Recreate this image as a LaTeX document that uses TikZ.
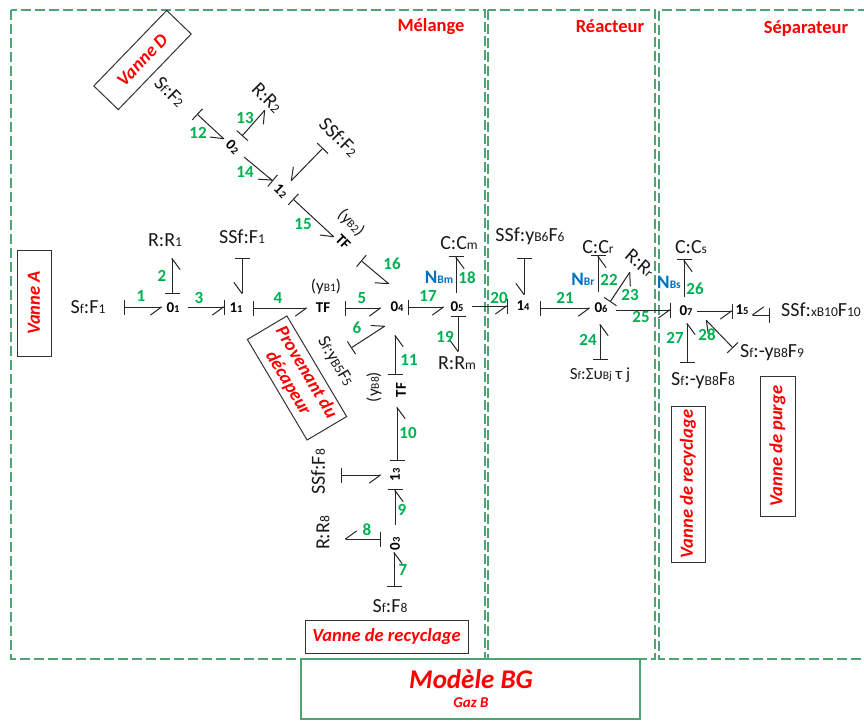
\documentclass[tikz,border=0pt]{standalone}
\usepackage{fontspec}
\setmainfont{Carlito}
\usetikzlibrary{arrows.meta}
\definecolor{fgreen}{RGB}{76,163,115}
\definecolor{ngreen}{RGB}{0,176,80}
\definecolor{nblue}{RGB}{0,112,192}
\newcommand\lo[1]{{\fontsize{13.5}{13}\selectfont #1}}
\newcommand\ls[1]{{\fontsize{11.5}{11}\selectfont #1}}
\newcommand\lj[1]{{\fontsize{10.5}{11}\selectfont #1}}
\newcommand\bond[7]{\draw[#1] ([shift={(#3,#4)}]#2.center) -- ([shift={(#6,#7)}]#5.center);}
\tikzset{
  x=1pt,y=-1pt,
  sb/.style={line width=1pt,black!85,{Bar[width=15pt]}-{Straight Barb[harpoon,swap,length=11pt,width=16pt,round=false]}},
  sg/.style={line width=1pt,black!85,{Bar[width=15pt,sep=4pt]}-{Straight Barb[harpoon,swap,length=11pt,width=16pt,round=false]}},
  se/.style={line width=1pt,black!85,-{Straight Barb[harpoon,swap,length=11pt,width=16pt,round=false]Bar[width=15pt]}},
  sl/.style={line width=1pt,black!85,{Bar[width=15pt]}-{Straight Barb[harpoon,length=11pt,width=16pt,round=false]}},
  frame/.style={draw=fgreen,line width=1.4pt,dash pattern=on 10pt off 4pt},
  el/.style={inner sep=0pt,font=\fontsize{20}{20}\selectfont,text=black!90},
  jn/.style={inner sep=0pt,font=\fontsize{15}{15}\selectfont\bfseries,text=black},
  num/.style={inner sep=0pt,font=\fontsize{17}{17}\selectfont\bfseries,text=ngreen},
  nb/.style={inner sep=0pt,font=\fontsize{19}{19}\selectfont\bfseries,text=nblue},
  zone/.style={inner sep=0pt,font=\fontsize{18.5}{19}\selectfont\bfseries,text=red},
  tag/.style={draw=black!80,line width=1pt,inner sep=0pt,font=\fontsize{18.5}{21}\selectfont\bfseries\itshape,text=red,align=center},
}
\begin{document}
\begin{tikzpicture}
\useasboundingbox (0,0) rectangle (864,720);
% frames
\draw[frame] (11,10) rectangle (485,659);
\draw[frame] (488,10) rectangle (655,659);
\draw[frame] (875,659) -- (659,659) -- (659,10) -- (875,10);
\node[zone] (zm) at (431,27) {Mélange};
\node[zone] (zr) at (610,26) {Réacteur};
\node[zone] (zs) at (806,29) {Séparateur};
% tag boxes
\node[tag,minimum width=106pt,minimum height=34pt,rotate=90] (va) at (34,303) {Vanne A};
\node[tag,minimum width=105pt,minimum height=34pt,rotate=46] (vd) at (142.5,60) {Vanne D};
\node[tag,minimum width=117pt,minimum height=46pt,rotate=-59.3] (vp) at (297,378) {Provenant du\\décapeur};
\node[tag,minimum width=163pt,minimum height=33pt] (vr) at (386.5,636.5) {Vanne de recyclage};
\node[tag,minimum width=156pt,minimum height=34pt,rotate=90] (vs) at (688,484) {Vanne de recyclage};
\node[tag,minimum width=140pt,minimum height=35pt,rotate=90] (vq) at (777.5,446) {Vanne de purge};
\node[draw=fgreen,line width=1.2pt,minimum width=339pt,minimum height=60pt,inner sep=0pt] (mb) at (470.5,689) {};
\node[inner sep=0pt,text=red,font=\fontsize{27}{27}\selectfont\bfseries\itshape] (mt) at (471,679) {Modèle BG};
\node[inner sep=0pt,text=red,font=\fontsize{15}{15}\selectfont\bfseries\itshape] (mg) at (471,703) {Gaz B};
% elements
\node[el] (sff1) at (88,307) {S\lo{f}:F\lo{1}};
\node[el] (rr1) at (165,240) {R:R\lo{1}};
\node[el] (ssff1) at (242,237) {SSf:F\lo{1}};
\node[el,rotate=-45] (sff2) at (170,92) {S\lo{f}:F\lo{2}};
\node[el,rotate=-45] (rr2) at (267,98) {R:R\lo{2}};
\node[el,rotate=-45] (ssff2) at (339,137) {SSf:F\lo{2}};
\node[el,rotate=-60,font=\fontsize{18}{18}\selectfont] (sfb5) at (335,362) {S\lo{f}:y\lo{B5}F\lo{5}};
\node[el,rotate=90] (ssff8) at (318,472) {SSf:F\lo{8}};
\node[el,rotate=90] (rr8) at (323,533) {R:R\lo{8}};
\node[el] (sff8) at (390,606) {S\lo{f}:F\lo{8}};
\node[el] (ccm) at (459,243) {C:C\lo{m}};
\node[el] (rrm) at (457,363) {R:R\lo{m}};
\node[el] (ssf6) at (530,236) {SSf:y\lo{B6}F\lo{6}};
\node[el] (ccr) at (598,247) {C:C\lo{r}};
\node[el,rotate=-40] (rrr) at (640,263) {R:R\lo{r}};
\node[el,font=\fontsize{17}{17}\selectfont] (sfs) at (600,375) {S\ls{f}:Συ\ls{Bj} τ j};
\node[el] (ccs) at (691,247) {C:C\lo{s}};
\node[el] (sfb8) at (703,381) {S\lo{f}:-y\lo{B8}F\lo{8}};
\node[el] (sfb9) at (772,353) {S\lo{f}:-y\lo{B8}F\lo{9}};
\node[el] (ssf10) at (821,310) {SSf:\lo{xB10}F\lo{10}};
\node[el,font=\fontsize{17}{17}\selectfont] (yb1) at (326,287) {(y\ls{B1})};
\node[el,font=\fontsize{17}{17}\selectfont,rotate=-45] (yb2) at (351,223) {(y\ls{B2})};
\node[el,font=\fontsize{17}{17}\selectfont,rotate=90] (yb8) at (374,387) {(y\ls{B8})};
% junctions
\node[jn] (j01) at (173,308) {0\lj{1}};
\node[jn] (j11) at (236,308) {1\lj{1}};
\node[jn,rotate=-45] (j02) at (233,147) {0\lj{2}};
\node[jn,rotate=-45] (j12) at (281,191) {1\lj{2}};
\node[jn] (tf1) at (323,308) {TF};
\node[jn,rotate=-45] (tf2) at (343,242) {TF};
\node[jn,rotate=90] (tfv) at (401,390) {TF};
\node[jn] (j04) at (397,307) {0\lj{4}};
\node[jn] (j05) at (457,307) {0\lj{5}};
\node[jn] (j14) at (523,306) {1\lj{4}};
\node[jn] (j06) at (601,308) {0\lj{6}};
\node[jn] (j07) at (686,311) {0\lj{7}};
\node[jn] (j15) at (742,310) {1\lj{5}};
\node[jn,rotate=90] (j13) at (395,475) {1\lj{3}};
\node[jn,rotate=90] (j03) at (395,544) {0\lj{3}};
% bonds
\bond{sb}{sff1}{36}{0}{j01}{-11}{-1}
\bond{sb}{j01}{-1}{-14}{rr1}{7}{18}
\bond{se}{j01}{15}{-1}{j11}{-11}{-1}
\bond{sb}{ssff1}{0}{20.5}{j11}{6}{-14}
\bond{sb}{j11}{17}{0}{tf1}{-16}{0}
\bond{sg}{tf1}{18}{0}{j04}{-16}{1}
\bond{sl}{sfb5}{16}{-14}{j04}{-12}{19}
\bond{sg}{tf2}{15}{16}{j04}{-8}{-23}
\bond{sb}{j12}{12}{8}{tf2}{-9}{-5}
\bond{se}{j02}{11}{10}{j12}{-8}{-10}
\bond{sb}{ssff2}{-16}{11}{j12}{10}{-10}
\bond{sb}{j02}{9}{-11}{rr2}{-2}{12}
\bond{sb}{sff2}{27}{22}{j02}{-9}{-8}
\bond{sb}{tfv}{-6}{-15}{j04}{-2}{28}
\bond{sb}{j13}{2}{-14}{tfv}{-4}{17}
\bond{sb}{ssff8}{23}{3}{j13}{-14}{0}
\bond{se}{j03}{0}{-19}{j13}{0}{14}
\bond{sb}{j03}{-14}{-5}{rr8}{22}{6}
\bond{sb}{sff8}{4}{-19}{j03}{-1}{8}
\bond{sg}{j04}{7}{0}{j05}{-13}{0}
\bond{se}{j05}{-1}{-14}{ccm}{-3}{13}
\bond{sb}{j05}{1}{9}{rrm}{1}{-11}
\bond{se}{j05}{15}{-1}{j14}{-15}{0}
\bond{sb}{ssf6}{-6}{22}{j14}{1}{-11}
\bond{sg}{j14}{13}{2}{j06}{-11}{0}
\bond{se}{j06}{-3}{-16}{ccr}{0}{8}
\bond{sb}{j06}{9}{-6}{rrr}{-10}{9}
\bond{sb}{sfs}{0}{-15}{j06}{-1}{16}
\bond{se}{j06}{15}{2}{j07}{-15}{-1}
\bond{se}{j07}{-2}{-14}{ccs}{-7}{12}
\bond{sb}{sfb8}{-16}{-18}{j07}{1}{12}
\bond{sl}{sfb9}{-39}{-5}{j07}{20}{9}
\bond{se}{j07}{11}{0}{j15}{-9}{1}
\bond{sb}{ssf10}{-51}{5}{j15}{10}{5}
% numbers
\node[num] (n1) at (141,296) {1};
\node[num] (n2) at (162,276) {2};
\node[num] (n3) at (199,298) {3};
\node[num] (n4) at (278,298) {4};
\node[num] (n5) at (362,298) {5};
\node[num] (n6) at (357,328) {6};
\node[num] (n7) at (403,570) {7};
\node[num] (n8) at (367,530) {8};
\node[num] (n9) at (402,510) {9};
\node[num] (n10) at (408,433) {10};
\node[num] (n11) at (409,360) {11};
\node[num] (n12) at (198,133) {12};
\node[num] (n13) at (245,118) {13};
\node[num] (n14) at (245,172) {14};
\node[num] (n15) at (303,224) {15};
\node[num] (n16) at (392,264) {16};
\node[num] (n17) at (428,296) {17};
\node[num] (n18) at (467,278) {18};
\node[num] (n19) at (445,337) {19};
\node[num] (n20) at (499,298) {20};
\node[num] (n21) at (565,298) {21};
\node[num] (n22) at (609,280) {22};
\node[num] (n23) at (630,295) {23};
\node[num] (n24) at (588,340) {24};
\node[num] (n25) at (641,317) {25};
\node[num] (n26) at (695,289) {26};
\node[num] (n27) at (675,338) {27};
\node[num] (n28) at (707,335) {28};
\node[nb] (nbm) at (439,277) {N\ls{Bm}};
\node[nb] (nbr) at (583,279) {N\ls{Br}};
\node[nb] (nbs) at (669,282) {N\ls{Bs}};
\end{tikzpicture}
\end{document}
